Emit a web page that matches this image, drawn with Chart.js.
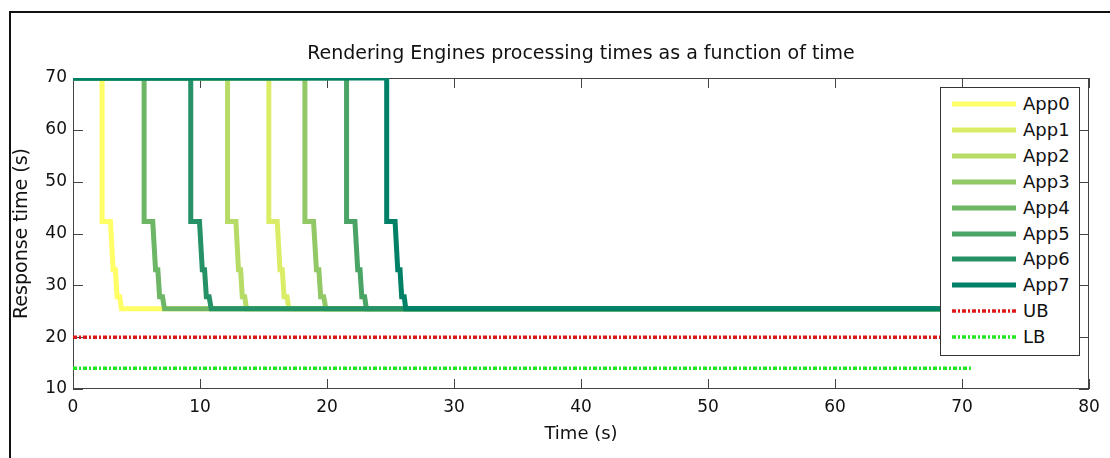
<!DOCTYPE html>
<html>
<head>
<meta charset="utf-8">
<script src="https://cdn.jsdelivr.net/npm/chart.js@4.4.0/dist/chart.umd.min.js"></script>
<style>
html,body{margin:0;padding:0;background:#fff;width:1110px;height:458px;overflow:hidden;}
#wrap{position:relative;width:1110px;height:458px;}
#c{position:absolute;left:0;top:0;}
#frame{position:absolute;left:9px;top:11px;width:1120px;height:470px;border-top:2px solid #111;border-left:2px solid #111;pointer-events:none;}
#legend{position:absolute;left:940px;top:87px;width:138px;height:267px;border:1px solid #333;background:#fff;font-family:'DejaVu Sans',sans-serif;font-size:18px;color:#111;}
.item{position:absolute;left:0;width:138px;height:26px;}
.item svg{position:absolute;left:11px;top:0;}
.item span{position:absolute;left:82px;top:0;line-height:26px;white-space:nowrap;}
</style>
</head>
<body>
<div id="wrap">
<canvas id="c" width="1110" height="458"></canvas>
<div id="frame"></div>
<div id="legend"></div>
</div>
<script>
// ---- data ----
const chartTitle = 'Rendering Engines processing times as a function of time';
const xTitle = 'Time (s)';
const yTitle = 'Response time (s)';
const xTicks = [0, 10, 20, 30, 40, 50, 60, 70, 80];
const yTicks = [10, 20, 30, 40, 50, 60, 70];

// response levels shared by every App step curve (s)
const appLevels = [70, 70, 42.3, 42.3, 33, 33, 27.8, 27.8, 25.5, 25.5];
// time of each point (s) for every App
const app0T = [0, 2.29, 2.29, 2.95, 3.16, 3.34, 3.47, 3.68, 3.81, 70.7];
const app1T = [0, 15.42, 15.42, 16.08, 16.30, 16.48, 16.62, 16.85, 17.00, 70.7];
const app2T = [0, 12.17, 12.17, 12.83, 13.03, 13.20, 13.33, 13.52, 13.66, 70.7];
const app3T = [0, 18.26, 18.26, 18.94, 19.17, 19.36, 19.50, 19.74, 19.91, 70.7];
const app4T = [0, 5.60, 5.60, 6.28, 6.50, 6.68, 6.82, 7.05, 7.20, 70.7];
const app5T = [0, 21.54, 21.54, 22.20, 22.42, 22.60, 22.74, 22.96, 23.10, 70.7];
const app6T = [0, 9.27, 9.27, 9.96, 10.18, 10.36, 10.50, 10.72, 10.88, 70.7];
const app7T = [0, 24.70, 24.70, 25.36, 25.57, 25.75, 25.88, 26.08, 26.20, 70.7];

const ubT = [0, 70.7];
const ubV = [20, 20];
const lbT = [0, 70.7];
const lbV = [14, 14];

const appNames = ['App0','App1','App2','App3','App4','App5','App6','App7'];
const appTimes = [app0T, app1T, app2T, app3T, app4T, app5T, app6T, app7T];
const appColors = ['#ffff66','#dbed66','#b6db66','#92c866','#6db666','#49a466','#249266','#008066'];

function pts(xs, ys){ return xs.map((x,i)=>({x:x, y:ys[i]})); }

const datasets = [];
appNames.forEach((n,i)=>{
  datasets.push({
    label:n, data:pts(appTimes[i], appLevels),
    borderColor:appColors[i], borderWidth:5, pointRadius:0, tension:0,
    borderJoinStyle:'miter', borderCapStyle:'butt', fill:false,
    order: 7 - i, clip: 0, _dash:null
  });
});
datasets.push({label:'UB', data:pts(ubT, ubV), borderColor:'#dd1a1a', borderWidth:3.5,
  borderDash:[4,2,2,2], pointRadius:0, tension:0, fill:false, order:8, clip:0, _dash:[4,2,2,2]});
datasets.push({label:'LB', data:pts(lbT, lbV), borderColor:'#22e622', borderWidth:3.5,
  borderDash:[4,2,2,2], pointRadius:0, tension:0, fill:false, order:9, clip:0, _dash:[4,2,2,2]});

const FONT = 'DejaVu Sans';

const boxPlugin = {
  id:'matlabBox',
  beforeDatasetsDraw(chart){
    const {ctx, chartArea:a, scales:{x, y}} = chart;
    ctx.save();
    ctx.strokeStyle = '#444';
    ctx.lineWidth = 1;
    ctx.strokeRect(Math.round(a.left)+0.5, Math.round(a.top)+0.5,
                   Math.round(a.right-a.left)-1, Math.round(a.bottom-a.top)-1);
    ctx.beginPath();
    const L = 10;
    xTicks.forEach(v=>{
      const px = Math.round(x.getPixelForValue(v))+0.5;
      ctx.moveTo(px, a.bottom); ctx.lineTo(px, a.bottom-L);
      ctx.moveTo(px, a.top); ctx.lineTo(px, a.top+L);
    });
    yTicks.forEach(v=>{
      const py = Math.round(y.getPixelForValue(v))+0.5;
      ctx.moveTo(a.left, py); ctx.lineTo(a.left+L, py);
      ctx.moveTo(a.right, py); ctx.lineTo(a.right-L, py);
    });
    ctx.stroke();
    ctx.restore();
  }
};

new Chart(document.getElementById('c'), {
  type:'line',
  data:{datasets},
  options:{
    responsive:false, animation:false, devicePixelRatio:1,
    layout:{padding:{left:0, right:21, top:0, bottom:0}},
    plugins:{
      legend:{display:false},
      tooltip:{enabled:false},
      title:{display:true, text:chartTitle, fullSize:false, color:'#111',
        font:{family:FONT, size:19, weight:'normal'}, padding:{top:42.6, bottom:12.6}}
    },
    scales:{
      x:{type:'linear', min:0, max:80,
        afterBuildTicks(s){ s.ticks = xTicks.map(v=>({value:v})); },
        ticks:{padding:8, color:'#111', maxRotation:0, font:{family:FONT, size:17}},
        grid:{display:false, drawTicks:false}, border:{display:false},
        title:{display:true, text:xTitle, color:'#111', font:{family:FONT, size:18}, padding:{top:0, bottom:13.2}},
        afterFit(s){ s.height = 69; }
      },
      y:{type:'linear', min:10, max:70,
        afterBuildTicks(s){ s.ticks = yTicks.map(v=>({value:v})); },
        ticks:{padding:6, color:'#111', font:{family:FONT, size:17}},
        grid:{display:false, drawTicks:false}, border:{display:false},
        title:{display:true, text:yTitle, color:'#111', font:{family:FONT, size:19}, padding:{top:10.6, bottom:0}},
        afterFit(s){ s.width = 73; }
      }
    }
  },
  plugins:[boxPlugin]
});

// legend (HTML, built from the datasets)
const leg = document.getElementById('legend');
datasets.forEach((d,i)=>{
  const row = document.createElement('div');
  row.className = 'item';
  row.style.top = (3 + 25.9*i) + 'px';
  const dash = d._dash ? ' stroke-dasharray="'+d._dash.join(' ')+'"' : '';
  row.innerHTML = '<svg width="64" height="26"><line x1="0" y1="13" x2="64" y2="13" stroke="'+d.borderColor+
    '" stroke-width="'+d.borderWidth+'"'+dash+'/></svg><span>'+d.label+'</span>';
  leg.appendChild(row);
});
</script>
</body>
</html>
